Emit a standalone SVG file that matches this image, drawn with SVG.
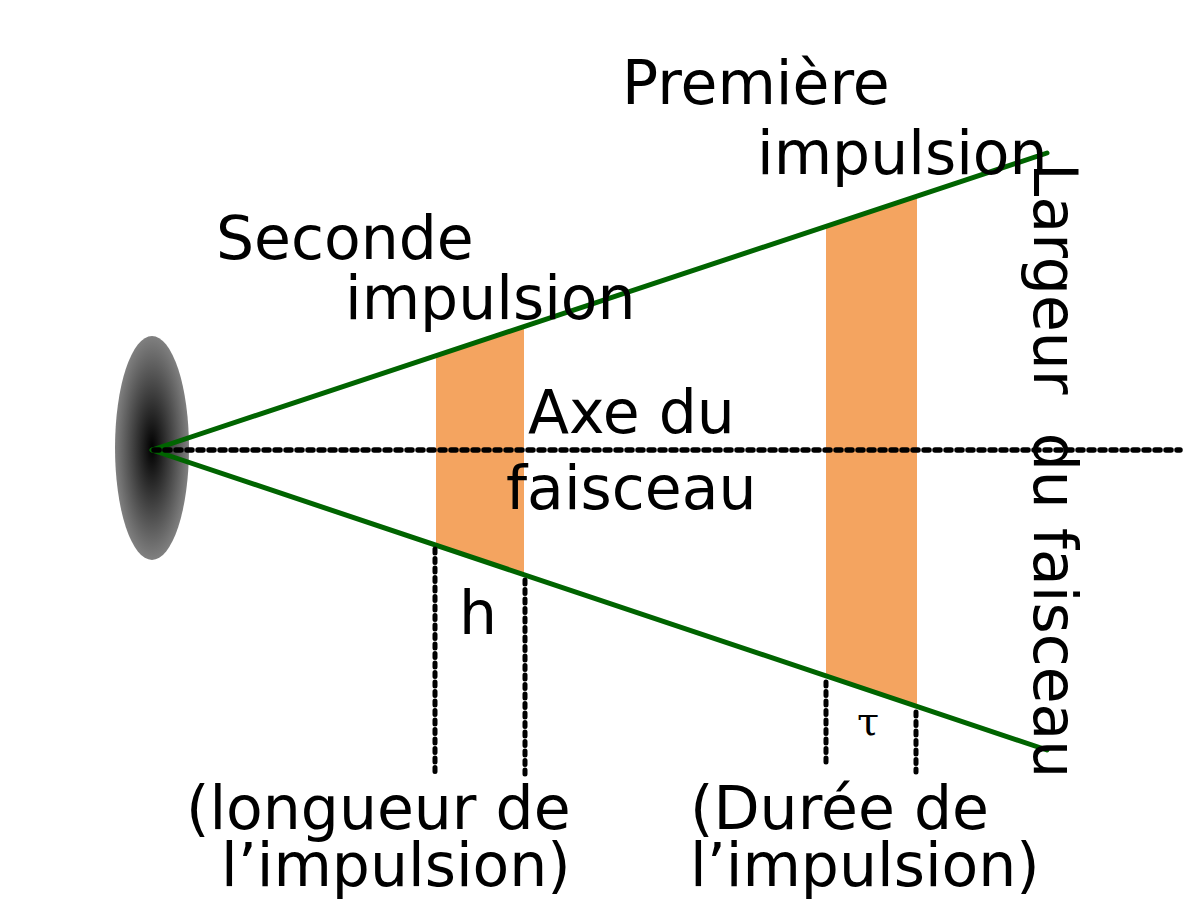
<svg xmlns="http://www.w3.org/2000/svg" width="1200" height="900" viewBox="0 0 1200 900">
<defs>
<radialGradient id="src" cx="50%" cy="50%" r="50%">
<stop offset="0" stop-color="#000000"/>
<stop offset="1" stop-color="#808080"/>
</radialGradient>
<style>
.lbl{font-family:"DejaVu Sans",sans-serif;font-size:60px;fill:#000}
.beam{stroke:#006400;stroke-width:5;fill:none;stroke-linecap:round}
.pulse{fill:#f4a460;stroke:none}
.axis{stroke:#000;stroke-width:5.5;stroke-dasharray:5,6;stroke-linecap:round;fill:none}
.vdash{stroke:#000;stroke-width:5;stroke-dasharray:4,5.5;stroke-linecap:round;fill:none}
</style>
</defs>
<rect width="1200" height="900" fill="#fff"/>
<g id="source"><ellipse cx="152" cy="448" rx="37" ry="112" fill="url(#src)"/></g>
<g id="pulse2"><polygon class="pulse" points="436,356 524,327 524,575 436,545"/></g>
<g id="pulse1"><polygon class="pulse" points="826,226 917,196 917,706 826,676"/></g>
<g id="connectors">
<line class="beam" x1="152" y1="450" x2="1047" y2="153"/>
<line class="beam" x1="152" y1="450" x2="1047" y2="750"/>
<line class="axis" x1="154" y1="450" x2="1180" y2="450"/>
<line class="vdash" x1="435" y1="549" x2="435" y2="772"/>
<line class="vdash" x1="525" y1="580" x2="525" y2="778"/>
<line class="vdash" x1="826" y1="682" x2="826" y2="767"/>
<line class="vdash" x1="916" y1="712" x2="916" y2="772"/>
</g>
<g id="labels">
<text class="lbl" x="622" y="104">Première</text>
<text class="lbl" x="757" y="174">impulsion</text>
<text class="lbl" x="216" y="259">Seconde</text>
<text class="lbl" x="345" y="319">impulsion</text>
<text class="lbl" x="528" y="433">Axe du</text>
<text class="lbl" x="506" y="509">faisceau</text>
<text class="lbl" x="459" y="634">h</text>
<text x="857" y="735" style="font-family:'DejaVu Serif',serif;font-size:40px">τ</text>
<text class="lbl" x="186" y="829">(longueur de</text>
<text class="lbl" x="221" y="886">l’impulsion)</text>
<text class="lbl" x="690" y="829">(Durée de</text>
<text class="lbl" x="690" y="886">l’impulsion)</text>
<text class="lbl" transform="translate(1034,163) rotate(90)" xml:space="preserve">Largeur  du faisceau</text>
</g>
</svg>
